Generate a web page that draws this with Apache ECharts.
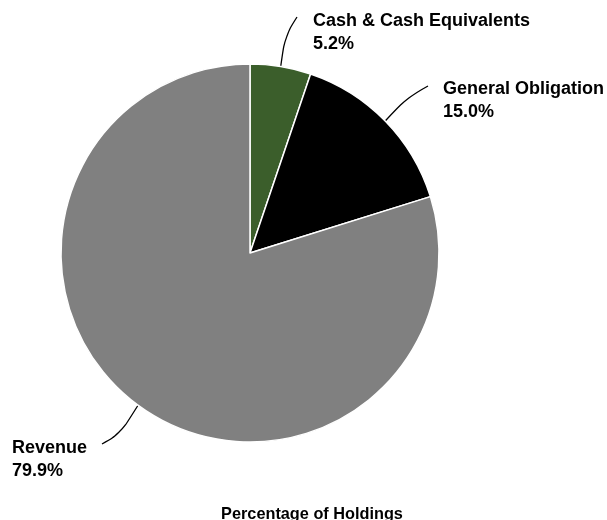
<!DOCTYPE html>
<html><head><meta charset="utf-8">
<script src="https://cdn.jsdelivr.net/npm/echarts@6/dist/echarts.min.js"></script>
<style>html,body{margin:0;padding:0;background:#fff}#c{width:607px;height:520px}</style>
</head><body><div id="c"></div>
<script>
const categories = ["Cash & Cash Equivalents", "General Obligation", "Revenue"];
const values = [5.2, 15.0, 79.9];
const colors = ["#3b5e2b", "#000000", "#808080"];
// label anchor (left x, block-center y), line end, line middle
const labelPos = [[313, 33], [443, 101], [12, 460]];
const lineEnd = [[297, 17], [428, 86], [102, 444]];
const lineMid = [[285, 36], [408, 97], [120, 434]];

const chart = echarts.init(document.getElementById('c'), null, {renderer: 'canvas'});
chart.setOption({
  animation: false,
  title: {
    text: "Percentage of Holdings", left: 307, textAlign: 'center', top: 502,
    textStyle: {fontFamily: 'Liberation Sans, Arial', fontWeight: 'bold', fontSize: 16.3, color: '#000'}
  },
  series: [{
    type: 'pie',
    center: [250, 253],
    radius: 189,
    startAngle: 90,
    clockwise: true,
    data: categories.map((n, i) => ({name: n, value: values[i], itemStyle: {color: colors[i]}})),
    itemStyle: {borderColor: '#fff', borderWidth: 1.5},
    label: {
      show: true, position: 'outside',
      formatter: p => p.name + '\n' + p.value.toFixed(1) + '%',
      fontFamily: 'Liberation Sans, Arial', fontWeight: 'bold', fontSize: 18, lineHeight: 23, color: '#000',
      align: 'left'
    },
    labelLine: {show: true, length: 20, length2: 20, smooth: 0.4, lineStyle: {color: '#000', width: 1.3}},
    labelLayout: p => {
      const i = p.dataIndex;
      const start = p.labelLinePoints ? p.labelLinePoints[0] : null;
      const res = {x: labelPos[i][0], y: labelPos[i][1], align: 'left', verticalAlign: 'middle'};
      if (start) res.labelLinePoints = [start, lineMid[i], lineEnd[i]];
      return res;
    }
  }]
});
</script></body></html>
